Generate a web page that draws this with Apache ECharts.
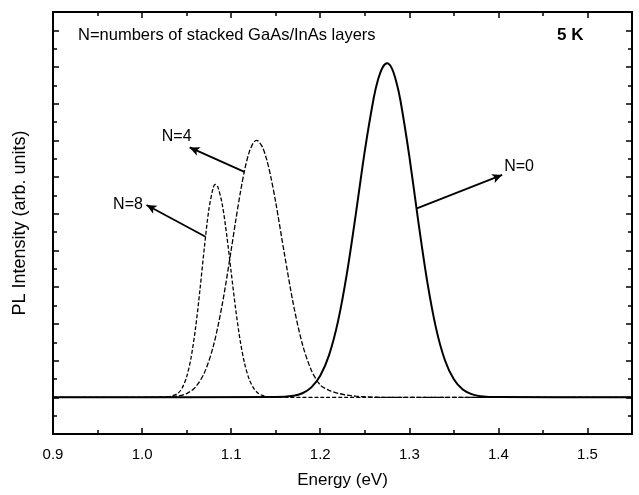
<!DOCTYPE html>
<html>
<head>
<meta charset="utf-8">
<title>PL spectra</title>
<script src="https://cdn.jsdelivr.net/npm/echarts@6/dist/echarts.min.js"></script>
<style>
  html, body { margin: 0; padding: 0; background: #fff; }
  #chart { width: 639px; height: 495px; }
</style>
</head>
<body>
<div id="chart"></div>
<script>
// N=8 spectrum (eV, arb. units)
const energyN8 = [0.90, 1.00, 1.02, 1.03, 1.04, 1.045, 1.05, 1.055, 1.06, 1.065, 1.07, 1.075, 1.08, 1.0825, 1.085, 1.09, 1.095, 1.10, 1.105, 1.11, 1.115, 1.12, 1.125, 1.13, 1.135, 1.14, 1.15, 1.20, 1.55];
const intensityN8 = [0, 0, 0.00, 0.03, 0.21, 0.51, 1.11, 2.16, 3.77, 5.87, 8.20, 10.24, 11.44, 11.60, 11.47, 10.52, 8.85, 6.83, 4.83, 3.13, 1.86, 1.02, 0.51, 0.23, 0.10, 0.04, 0.01, 0, 0];

// N=4 spectrum
const energyN4 = [0.90, 1.00, 1.04, 1.05, 1.06, 1.07, 1.08, 1.09, 1.10, 1.105, 1.11, 1.115, 1.12, 1.125, 1.1285, 1.13, 1.135, 1.14, 1.145, 1.15, 1.16, 1.17, 1.18, 1.19, 1.20, 1.21, 1.22, 1.23, 1.24, 1.25, 1.27, 1.55];
const intensityN4 = [0, 0, 0.07, 0.20, 0.56, 1.34, 2.79, 5.06, 8.02, 9.59, 11.07, 12.36, 13.32, 13.88, 14.00, 13.98, 13.65, 12.94, 11.90, 10.64, 7.76, 5.03, 2.89, 1.48, 0.67, 0.38, 0.22, 0.12, 0.06, 0.03, 0, 0];

// N=0 spectrum
const energyN0 = [0.90, 1.15, 1.17, 1.18, 1.19, 1.20, 1.21, 1.22, 1.23, 1.24, 1.25, 1.26, 1.265, 1.27, 1.275, 1.28, 1.285, 1.29, 1.30, 1.31, 1.32, 1.33, 1.34, 1.35, 1.36, 1.37, 1.38, 1.40, 1.55];
const intensityN0 = [0, 0.01, 0.08, 0.22, 0.54, 1.17, 2.31, 4.15, 6.77, 10.0, 13.42, 16.3, 17.33, 17.98, 18.2, 17.97, 17.27, 16.19, 13.15, 9.62, 6.35, 3.77, 2.02, 0.98, 0.42, 0.17, 0.06, 0.01, 0];

// arrow annotations: [tail on curve, head], label anchor
const arrowN0 = [[1.3085, 10.3], [1.4043, 12.12]];
const arrowN4 = [[1.1149, 12.29], [1.0534, 13.62]];
const arrowN8 = [[1.0713, 8.75], [1.0050, 10.48]];
const labelN0 = [1.4065, 12.55];
const labelN4 = [1.0556, 14.19];
const labelN8 = [1.0009, 10.53];

const xMin = 0.9, xMax = 1.55;
const yMin = -2, yMax = 21;

const chart = echarts.init(document.getElementById('chart'));
const font = '"Liberation Sans", Arial, sans-serif';

const zip = (xs, ys) => xs.map((x, i) => [x, ys[i]]);

function arrow(pts) {
  return {
    silent: true,
    symbol: ['none', 'arrow'],
    symbolSize: [7, 10],
    lineStyle: { color: '#000', width: 1.8, type: 'solid' },
    label: { show: false },
    data: [[{ coord: pts[0] }, { coord: pts[1] }]]
  };
}

function tag(text, pos, align) {
  return {
    silent: true,
    symbol: 'circle',
    symbolSize: 0,
    data: [{
      coord: pos,
      label: {
        show: true, formatter: text, position: 'inside',
        align: align, verticalAlign: 'middle',
        color: '#000', fontFamily: font, fontSize: 16
      }
    }]
  };
}

const tickStyle = {
  show: true, inside: true, length: 6,
  lineStyle: { color: '#000', width: 1.5 }
};
const minorStyle = {
  show: true, splitNumber: 2, length: 4,
  lineStyle: { color: '#000', width: 1.5 }
};
const lineStyleAxis = { show: true, onZero: false, lineStyle: { color: '#000', width: 2 } };

const option = {
  animation: false,
  backgroundColor: '#fff',
  grid: { left: 53, right: 7, top: 12, bottom: 61 },
  xAxis: [{
    type: 'value', min: xMin, max: xMax, interval: 0.1,
    name: 'Energy (eV)', nameLocation: 'middle', nameGap: 38,
    nameTextStyle: { color: '#000', fontFamily: font, fontSize: 17 },
    axisLine: lineStyleAxis, axisTick: tickStyle, minorTick: minorStyle,
    splitLine: { show: false },
    axisLabel: {
      color: '#000', fontFamily: font, fontSize: 15, margin: 13,
      showMaxLabel: false,
      formatter: v => v.toFixed(1)
    }
  }, {
    type: 'value', position: 'top', min: xMin, max: xMax, interval: 0.1,
    axisLine: lineStyleAxis, axisTick: tickStyle, minorTick: minorStyle,
    splitLine: { show: false }, axisLabel: { show: false }
  }],
  yAxis: [{
    type: 'value', min: yMin, max: yMax, interval: 2,
    name: 'PL Intensity (arb. units)', nameLocation: 'middle', nameGap: 24,
    nameTextStyle: { color: '#000', fontFamily: font, fontSize: 18 },
    axisLine: lineStyleAxis, axisTick: tickStyle, minorTick: minorStyle,
    splitLine: { show: false }, axisLabel: { show: false }
  }, {
    type: 'value', position: 'right', min: yMin, max: yMax, interval: 2,
    axisLine: lineStyleAxis, axisTick: tickStyle, minorTick: minorStyle,
    splitLine: { show: false }, axisLabel: { show: false }
  }],
  series: [{
    name: 'N=8', type: 'line', showSymbol: false, smooth: 0.3,
    data: zip(energyN8, intensityN8),
    lineStyle: { color: '#000', width: 1.3, type: [4, 2] },
    markLine: arrow(arrowN8),
    markPoint: tag('N=8', labelN8, 'right')
  }, {
    name: 'N=4', type: 'line', showSymbol: false, smooth: 0.3,
    data: zip(energyN4, intensityN4),
    lineStyle: { color: '#000', width: 1.3, type: [5, 2] },
    markLine: arrow(arrowN4),
    markPoint: tag('N=4', labelN4, 'right')
  }, {
    name: 'N=0', type: 'line', showSymbol: false, smooth: 0.3,
    data: zip(energyN0, intensityN0),
    lineStyle: { color: '#000', width: 2 },
    markLine: arrow(arrowN0),
    markPoint: tag('N=0', labelN0, 'left')
  }],
  graphic: [{
    type: 'text', left: 78, top: 27,
    style: { text: 'N=numbers of stacked GaAs/InAs layers', fill: '#000', font: '16.5px ' + font }
  }, {
    type: 'text', left: 557, top: 27,
    style: { text: '5 K', fill: '#000', font: 'bold 17px ' + font }
  }]
};

chart.setOption(option);
</script>
</body>
</html>
